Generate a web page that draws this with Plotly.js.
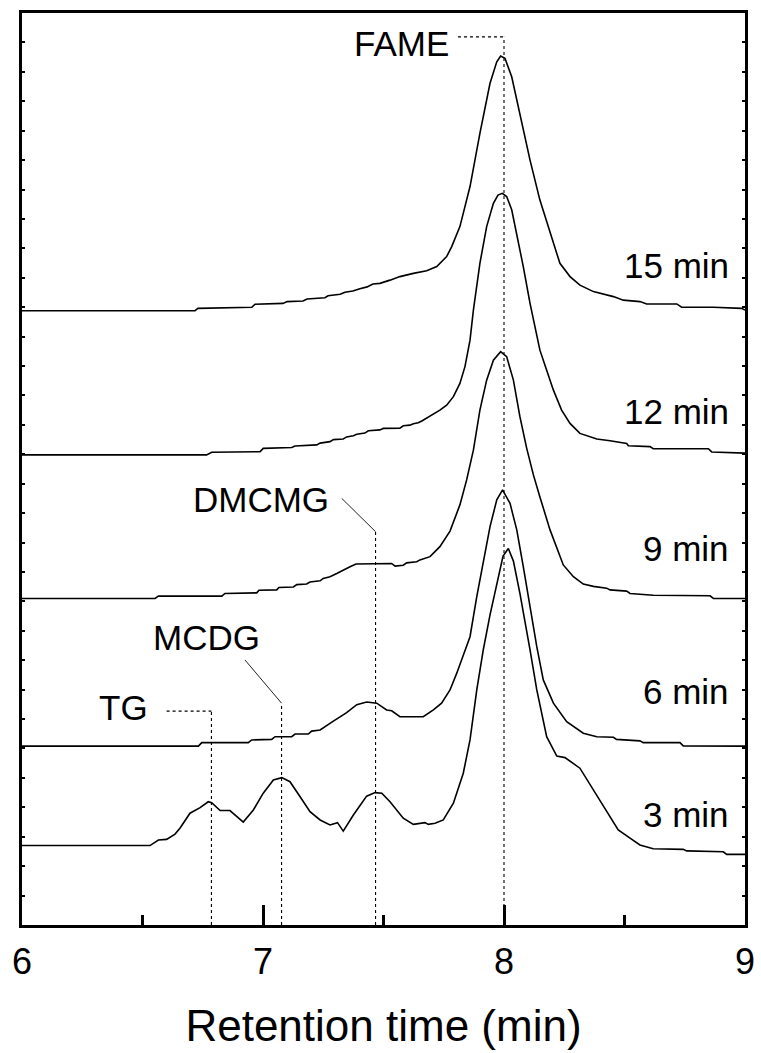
<!DOCTYPE html>
<html>
<head>
<meta charset="utf-8">
<script src="https://cdn.plot.ly/plotly-3.0.1.min.js"></script>
<style>html,body{margin:0;padding:0;background:#fff;}#chart{width:761px;height:1053px;}</style>
</head>
<body>
<div id="chart"></div>
<script>
// ---- Data (retention time in min, detector signal in stacked a.u.) ----
const t15 = [6.000,6.718,6.730,6.954,6.967,7.083,7.100,7.166,7.183,7.257,7.270,7.320,7.340,7.373,7.402,7.432,7.456,7.485,7.527,7.568,7.624,7.679,7.721,7.762,7.783,7.817,7.859,7.900,7.942,7.970,7.986,8.004,8.032,8.066,8.108,8.149,8.191,8.232,8.274,8.315,8.371,8.454,8.495,8.564,8.592,8.717,8.737,8.869,8.986,9.000];
const s15 = [20.88,20.88,20.96,21.00,21.10,21.13,21.19,21.21,21.28,21.32,21.39,21.44,21.51,21.55,21.63,21.69,21.79,21.81,21.92,22.04,22.15,22.24,22.38,22.72,23.06,23.74,25.10,26.91,28.61,29.34,29.54,29.46,28.83,27.59,26.00,24.64,23.51,22.49,22.04,21.75,21.53,21.36,21.24,21.19,21.11,21.11,21.00,21.00,20.96,20.90];

const t12 = [6.000,6.766,6.787,6.988,7.001,7.119,7.133,7.223,7.237,7.278,7.292,7.333,7.347,7.375,7.389,7.423,7.437,7.485,7.499,7.568,7.582,7.610,7.624,7.644,7.659,7.693,7.734,7.762,7.790,7.817,7.838,7.859,7.873,7.900,7.928,7.956,7.975,7.993,8.011,8.032,8.053,8.080,8.108,8.136,8.149,8.177,8.205,8.239,8.274,8.315,8.357,8.385,8.440,8.509,8.516,8.606,8.619,8.848,8.862,8.993,9.000];
const s12 = [15.98,15.98,16.07,16.09,16.20,16.23,16.28,16.32,16.38,16.43,16.50,16.52,16.59,16.63,16.68,16.72,16.80,16.83,16.88,16.89,16.97,16.99,17.04,17.07,17.13,17.30,17.50,17.67,17.96,18.41,18.98,19.88,20.90,22.49,23.74,24.53,24.81,24.87,24.76,24.31,23.51,22.38,21.13,20.11,19.54,18.86,18.18,17.50,17.05,16.71,16.58,16.52,16.46,16.37,16.29,16.26,16.19,16.19,16.08,16.05,16.04];

const t9 = [6.000,6.552,6.566,6.829,6.842,6.974,6.983,7.057,7.066,7.126,7.140,7.181,7.195,7.237,7.250,7.278,7.306,7.333,7.361,7.386,7.534,7.548,7.582,7.596,7.638,7.651,7.693,7.734,7.776,7.817,7.845,7.873,7.900,7.928,7.956,7.986,8.011,8.039,8.066,8.094,8.122,8.149,8.191,8.246,8.288,8.329,8.371,8.426,8.440,8.509,8.523,8.619,8.855,8.869,9.000];
const s9 = [11.10,11.10,11.18,11.18,11.27,11.29,11.38,11.39,11.47,11.49,11.57,11.59,11.66,11.70,11.78,11.84,11.95,12.07,12.18,12.27,12.29,12.20,12.23,12.31,12.35,12.41,12.52,12.86,13.39,14.28,15.13,16.14,17.50,18.52,19.20,19.49,19.32,18.52,17.28,16.21,15.30,14.55,13.43,12.24,11.84,11.59,11.51,11.45,11.39,11.35,11.27,11.21,11.19,11.10,11.10];

const t6 = [6.000,6.732,6.746,6.939,6.953,7.036,7.050,7.119,7.133,7.188,7.202,7.237,7.292,7.347,7.389,7.430,7.472,7.513,7.534,7.568,7.665,7.707,7.741,7.776,7.804,7.831,7.859,7.887,7.914,7.942,7.970,7.994,8.025,8.053,8.080,8.108,8.136,8.163,8.205,8.260,8.329,8.385,8.454,8.467,8.564,8.578,8.730,8.744,9.000];
const s6 = [6.08,6.08,6.20,6.20,6.29,6.31,6.40,6.40,6.49,6.49,6.59,6.63,6.93,7.22,7.49,7.58,7.54,7.31,7.28,7.08,7.08,7.31,7.54,7.99,8.56,9.18,9.80,11.16,12.29,13.54,14.45,14.79,14.33,13.43,12.18,10.82,9.46,8.33,7.54,6.91,6.52,6.40,6.38,6.31,6.26,6.20,6.20,6.09,6.08];

const t3 = [6.000,6.531,6.566,6.600,6.635,6.656,6.697,6.739,6.773,6.787,6.822,6.863,6.918,6.960,7.001,7.043,7.078,7.112,7.154,7.195,7.237,7.278,7.309,7.333,7.375,7.430,7.465,7.493,7.527,7.582,7.624,7.659,7.672,7.686,7.714,7.748,7.790,7.831,7.859,7.887,7.914,7.942,7.976,7.996,8.018,8.039,8.066,8.094,8.108,8.136,8.177,8.219,8.253,8.315,8.371,8.426,8.474,8.523,8.564,8.619,8.744,8.758,8.910,8.924,9.000];
const s3 = [2.70,2.70,2.89,2.91,3.09,3.30,3.80,3.99,4.19,4.16,3.89,3.89,3.50,3.91,4.48,4.93,5.01,4.87,4.36,3.85,3.57,3.40,3.48,3.19,3.74,4.38,4.50,4.48,4.19,3.63,3.42,3.46,3.48,3.42,3.46,3.57,4.14,5.16,6.29,7.99,9.35,10.54,11.79,12.54,12.80,12.37,11.27,10.03,9.35,7.99,6.40,5.74,5.69,5.33,4.59,3.91,3.23,2.95,2.72,2.59,2.57,2.52,2.49,2.40,2.40];

const seriesNames = ['15 min','12 min','9 min','6 min','3 min'];
const seriesLabelY = [22.43, 17.45, 12.81, 7.93, 3.77];

const peakNames = ['TG','MCDG','DMCMG','FAME'];
const peakTimes = [6.786, 7.077, 7.467, 8.0];
const peakLineTop = [7.27, 7.54, 13.37, 30.19];

const xTickVals = [6, 7, 8, 9];
const xTickText = ['6', '7', '8', '9'];

// ---- Build ----
const FONT = 'Arial, "Liberation Sans", sans-serif';
const xs = [t15, t12, t9, t6, t3];
const ys = [s15, s12, s9, s6, s3];
const traces = xs.map((x, i) => ({
  x: x, y: ys[i], type: 'scatter', mode: 'lines', name: seriesNames[i],
  line: {color: '#000', width: 1.6}, hoverinfo: 'skip'
}));

const dotLine = {color: '#000', width: 1.1, dash: 'dot'};
const solidThin = {color: '#222', width: 1};
const shapes = [];
peakTimes.forEach((t, i) => {
  shapes.push({type: 'line', xref: 'x', yref: 'y', x0: t, x1: t, y0: 0, y1: peakLineTop[i], line: dotLine, layer: 'above'});
});
// leaders: TG & FAME horizontal dotted, MCDG & DMCMG diagonal solid
shapes.push({type: 'line', xref: 'x', yref: 'y', x0: 6.600, x1: peakTimes[0], y0: peakLineTop[0], y1: peakLineTop[0], line: dotLine});
shapes.push({type: 'line', xref: 'x', yref: 'y', x0: 6.925, x1: peakTimes[1], y0: 9.01, y1: peakLineTop[1], line: solidThin});
shapes.push({type: 'line', xref: 'x', yref: 'y', x0: 7.327, x1: peakTimes[2], y0: 14.50, y1: peakLineTop[2], line: solidThin});
shapes.push({type: 'line', xref: 'x', yref: 'y', x0: 7.809, x1: peakTimes[3], y0: peakLineTop[3], y1: peakLineTop[3], line: dotLine});

const peakLabelPos = [[6.423, 7.39], [6.766, 9.77], [6.991, 14.45], [7.573, 29.95]];
const annotations = [];
peakNames.forEach((n, i) => {
  annotations.push({x: peakLabelPos[i][0], y: peakLabelPos[i][1], xref: 'x', yref: 'y', text: n, showarrow: false,
    xanchor: 'center', yanchor: 'middle', font: {family: FONT, size: 35, color: '#000'}});
});
seriesNames.forEach((n, i) => {
  annotations.push({x: 8.942, y: seriesLabelY[i], xref: 'x', yref: 'y', text: n, showarrow: false,
    xanchor: 'right', yanchor: 'middle', font: {family: FONT, size: 35, color: '#000'}});
});

const layout = {
  width: 761, height: 1053,
  margin: {l: 22, r: 16, t: 13, b: 128, pad: 0},
  paper_bgcolor: '#fff', plot_bgcolor: '#fff',
  showlegend: false,
  font: {family: FONT, color: '#000'},
  xaxis: {
    range: [6, 9], showgrid: false, zeroline: false,
    tickmode: 'array', tickvals: xTickVals, ticktext: xTickText,
    ticks: 'inside', ticklen: 20, tickwidth: 3, tickcolor: '#000',
    minor: {dtick: 0.5, tick0: 6, ticks: 'inside', ticklen: 10, tickwidth: 3, tickcolor: '#000'},
    showline: true, linewidth: 3, linecolor: '#000', mirror: true,
    tickfont: {family: FONT, size: 36, color: '#000'},
    ticklabelstandoff: 3,
    title: {text: 'Retention time (min)', font: {family: FONT, size: 44, color: '#000'}, standoff: 29}
  },
  yaxis: {
    range: [0, 31], showgrid: false, zeroline: false,
    tickmode: 'linear', tick0: 0, dtick: 1,
    ticks: 'inside', ticklen: 3, tickwidth: 2, tickcolor: '#000',
    showticklabels: false,
    showline: true, linewidth: 3, linecolor: '#000', mirror: 'ticks'
  },
  shapes: shapes,
  annotations: annotations
};

Plotly.newPlot('chart', traces, layout, {staticPlot: true, displayModeBar: false});
</script>
</body>
</html>
